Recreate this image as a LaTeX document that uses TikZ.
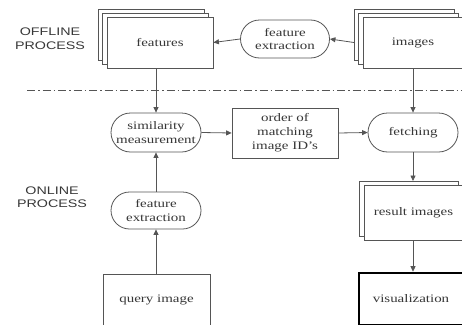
\documentclass[tikz,border=0pt]{standalone}
\usepackage{fontspec}
\setmainfont{Liberation Serif}[FakeStretch=1.3]
\setsansfont{Liberation Sans}[FakeStretch=1.3]
\usepackage{tikz}
\usetikzlibrary{shapes.misc, arrows.meta, positioning, calc, shadows}
\definecolor{lineGray}{RGB}{85, 85, 85}
\definecolor{textGray}{RGB}{55, 55, 55}

\begin{document}
\begin{tikzpicture}[
    x=1pt, y=-1pt,
    box/.style={rectangle, draw=lineGray, line width=0.8pt, fill=white, align=center, text=textGray, font=\fontsize{11.5}{14}\selectfont},
    stack/.style={box, double copy shadow={shadow xshift=-4.3pt, shadow yshift=3.6pt, draw=lineGray, line width=0.8pt, fill=white}},
    stack_one/.style={box, copy shadow={shadow xshift=-5pt, shadow yshift=3.6pt, draw=lineGray, line width=0.8pt, fill=white}},
    process/.style={rounded rectangle, draw=lineGray, line width=0.8pt, fill=white, align=center, text=textGray, minimum width=92pt, minimum height=38pt, inner sep=1pt, font=\fontsize{11.5}{13.5}\selectfont},
    phase/.style={align=center, text=textGray, font=\sffamily\fontsize{11}{13.5}\selectfont},
    flow/.style={-{Triangle[length=5.5pt, width=5pt]}, draw=lineGray, line width=0.8pt},
    separator/.style={draw=lineGray, line width=0.8pt, dash pattern=on 8pt off 3pt on 1.5pt off 3pt}
]
    % Frame of the cropped figure
    \useasboundingbox (0,0) rectangle (462,324);
    \clip (0,0) rectangle (462,324);

    % Phase labels
    \node[phase] (offline) at (50,38.5) {OFFLINE\\PROCESS};
    \node[phase] (online) at (52,197) {ONLINE\\PROCESS};

    % Offline / online separator
    \coordinate (sepL) at (27,90);
    \coordinate (sepR) at (462,90);
    \draw[separator] (sepL) -- (sepR);

    % Offline process
    \node[stack, minimum width=106pt, minimum height=51pt] (features) at (160,42.5) {features};
    \node[stack, minimum width=100pt, minimum height=51pt] (images) at (413,42.5) {images};
    \node[process, minimum width=91pt] (fextOff) at (285,39) {feature\\extraction};

    % Online process
    \node[process, minimum height=39pt] (sim) at (156,132.5) {similarity\\measurement};
    \node[box, minimum width=106pt, minimum height=50pt] (order) at (285,133) {order of\\matching\\image ID’s};
    \node[process, minimum height=39pt] (fetch) at (413,132.5) {fetching};
    \node[process, minimum height=37pt] (fextOn) at (156,210.5) {feature\\extraction};
    \node[stack_one, minimum width=99pt, minimum height=55pt] (result) at (413.5,212.5) {result images};
    \node[box, minimum width=107pt, minimum height=52pt] (query) at (156.5,300) {query image};
    \node[box, line width=2.6pt, draw=black, minimum width=104pt, minimum height=52pt] (visual) at (411,299) {visualization};

    % Offline connections
    \draw[flow] ([xshift=-8.6pt]images.west) -- (fextOff.east);
    \draw[flow] (fextOff.west) -- (features.east);
    \draw[flow] (sim.north |- features.south) -- (sim.north);
    \draw[flow] (images.south) -- (fetch.north);

    % Online connections
    \draw[flow] (query.north -| fextOn.south) -- (fextOn.south);
    \draw[flow] (fextOn.north) -- (sim.south);
    \draw[flow] (sim.east) -- (order.west);
    \draw[flow] (order.east) -- (fetch.west);
    \draw[flow] (fetch.south) -- ($(fetch.south |- result.north)+(0,-3.6)$);
    \draw[flow] (fetch.south |- result.south) -- (fetch.south |- visual.north);
\end{tikzpicture}
\end{document}
